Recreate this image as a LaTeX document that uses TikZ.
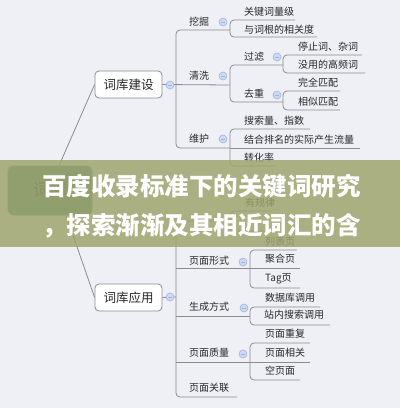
\documentclass[tikz,border=0pt]{standalone}
\usepackage{fontspec}
\newfontfamily\cjk{Noto Sans CJK SC}
\definecolor{bg}{RGB}{239,240,246}
\definecolor{lncol}{RGB}{140,140,140}
\definecolor{txt}{RGB}{40,40,40}
\definecolor{circfill}{RGB}{205,218,242}
\definecolor{circdraw}{RGB}{160,181,222}
\definecolor{banner}{RGB}{158,164,108}
\definecolor{rootfill}{RGB}{80,135,125}
\tikzset{
  ln/.style={draw=lncol, line width=0.8pt},
  rc/.style={rounded corners=4pt},
  lbl/.style={font=\cjk\fontsize{10}{12}\selectfont, anchor=west, inner sep=0pt, text=txt},
  mainbox/.style={draw=lncol, fill=white, rounded corners=4pt, minimum width=67pt, minimum height=27pt, inner sep=0pt, font=\cjk\fontsize{12.5}{14}\selectfont, text=txt, line width=0.8pt},
  rootbox/.style={draw=gray, fill=rootfill, rounded corners=5pt, minimum width=84pt, minimum height=49pt, inner sep=0pt, font=\cjk\fontsize{17}{19}\selectfont, text=txt, line width=0.8pt},
  fold/.style={circle, draw=circdraw, fill=circfill, minimum size=8pt, inner sep=0pt, line width=0.6pt,
    path picture={\draw[circdraw, line width=0.7pt] ([xshift=-2pt]path picture bounding box.center) -- ([xshift=2pt]path picture bounding box.center);}},
  bantext/.style={font=\cjk\bfseries\fontsize{24.5}{26}\selectfont, text=white, anchor=west, inner sep=0pt}
}
\begin{document}
\begin{tikzpicture}[x=1pt,y=-1pt]
\fill[bg] (0,0) rectangle (400,408);
\useasboundingbox (0,0) rectangle (400,408);

% main nodes
\node[rootbox] (root) at (50,190.5) {词库};
\node[mainbox] (jsb) at (128.5,84.5) {词库建设};
\node[mainbox] (jyy) at (128.5,297.5) {词库应用};
\draw[ln] (root.70) -- (jsb.west);
\draw[ln] (root.-57) -- (jyy.west);

% ===== top tree =====
\draw[ln] (jsb.east) -- (230,85);
\draw[ln,rc] (230,30) -- (176,30) -- (176,148) -- (230,148);
\node[fold] (f0) at (170,85) {};

\node[lbl] (wj) at (189,22) {挖掘};
\node[fold] (f1) at (223,22) {};
\draw[ln,rc] (295,20) -- (230,20) -- (230,37) -- (317,37);
\node[lbl] (a1) at (244,12) {关键词量级};
\node[lbl] (a2) at (244,30) {与词根的相关度};

\node[lbl] (qx) at (189,76) {清洗};
\node[fold] (f2) at (223,76) {};
\draw[ln,rc] (283,65) -- (230,65) -- (230,102) -- (283,102);
\node[lbl] (gl) at (244,57) {过滤};
\node[fold] (f3) at (277,57) {};
\node[lbl] (qc) at (244,94) {去重};
\node[fold] (f4) at (277,95) {};
\draw[ln,rc] (362,55) -- (283,55) -- (283,73) -- (365,73);
\node[lbl] (c1) at (298,47) {停止词、杂词};
\node[lbl] (c2) at (298,65) {没用的高频词};
\draw[ln,rc] (340,91) -- (283,91) -- (283,110) -- (340,110);
\node[lbl] (d1) at (298,83) {完全匹配};
\node[lbl] (d2) at (298,102) {相似匹配};

\node[lbl] (wh) at (189,139) {维护};
\node[fold] (f5) at (223,139) {};
\draw[ln,rc] (310,129) -- (230,129) -- (230,166) -- (276,166);
\draw[ln] (230,148) -- (360,148);
\node[lbl] (e1) at (244,121) {搜索量、指数};
\node[lbl] (e2) at (244,140) {结合排名的实际产生流量};
\node[lbl] (e3) at (244,158) {转化率};

% ===== bottom tree =====
\draw[ln] (jyy.east) -- (176,297);
\draw[ln,rc] (230,221) -- (176,221) -- (176,397) -- (237,397);
\node[fold] (g0) at (170,297) {};
\draw[ln,rc] (272,211) -- (230,211) -- (230,231) -- (270,231);
\node[lbl] (h0) at (245,203) {有规律};

\node[lbl] (ym) at (189,261) {页面形式};
\node[fold] (g1) at (243,262) {};
\draw[ln] (176,268) -- (300,268);
\draw[ln,rc] (297,250) -- (250,250) -- (250,288) -- (300,288);
\node[lbl] (h1) at (265,242) {列表页};
\node[lbl] (h2) at (265,259) {聚合页};
\node[lbl] (h3) at (265,279) {Tag页};

\node[lbl] (sc) at (189,307) {生成方式};
\node[fold] (g2) at (244,308) {};
\draw[ln] (176,316) -- (250,316);
\draw[ln,rc] (320,307) -- (250,307) -- (250,325) -- (330,325);
\node[lbl] (i1) at (265,298) {数据库调用};
\node[lbl] (i2) at (264,315) {站内搜索调用};

\node[lbl] (zl) at (189,353) {页面质量};
\node[fold] (g3) at (243,354) {};
\draw[ln] (176,362) -- (310,362);
\draw[ln,rc] (310,343) -- (250,343) -- (250,380) -- (300,380);
\node[lbl] (j1) at (265,334) {页面重复};
\node[lbl] (j2) at (265,353) {页面相关};
\node[lbl] (j3) at (265,371) {空页面};

\node[lbl] (gl2) at (189,388) {页面关联};

% ===== banner =====
\fill[banner, opacity=0.84] (0,160) rectangle (400,247);
\node[bantext] (t1) at (42,186) {百度收录标准下的关键词研究};
\node[bantext] (t2) at (42,226) {，探索渐渐及其相近词汇的含};
\end{tikzpicture}
\end{document}
